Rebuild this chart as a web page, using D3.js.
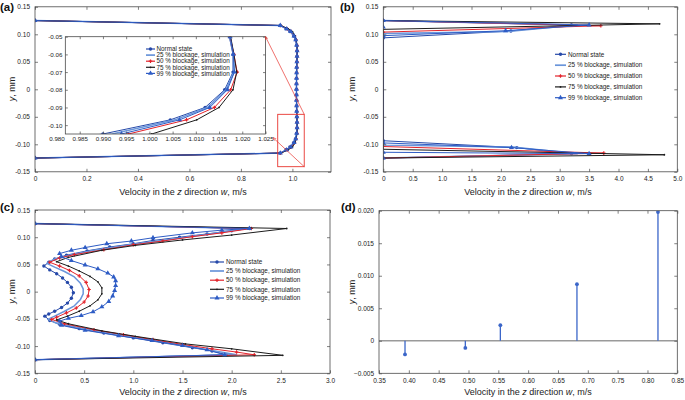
<!DOCTYPE html>
<html><head><meta charset="utf-8">
<script src="https://cdn.jsdelivr.net/npm/d3@7"></script>
<style>
body{margin:0;background:#fff;}
svg{display:block;font-family:"Liberation Sans",Arial,Helvetica,sans-serif;}
</style></head><body>
<svg id="chart" width="685" height="400"></svg>
<script>
// ---------- series meta ----------
const seriesNames = ["Normal state","25 % blockage, simulation","50 % blockage, simulation","75 % blockage, simulation","99 % blockage, simulation"];
const seriesColors = ["#2649a9","#6a95da","#e3232b","#1c1c1c","#2e5cc5"];
const seriesMarkers = ["circle", null, "cross", "dot", "triangle"];
const seriesWidths = [1, 1.5, 1, 1, 1];

// ---------- panel (a): y positions and velocities ----------
const aY = [0.125,0.116,0.11,0.105,0.097,0.09,0.08,0.07,0.06,0.05,0.04,0.03,0.02,0.01,0,-0.01,-0.02,-0.03,-0.04,-0.05,-0.06,-0.07,-0.08,-0.09,-0.097,-0.105,-0.11,-0.116,-0.125];
const aNormal = [0,0.952,0.975,0.990,1.0045,1.0120,1.0162,1.0180,1.0180,1.0172,1.0166,1.0162,1.0160,1.0158,1.0158,1.0158,1.0160,1.0162,1.0166,1.0172,1.0180,1.0180,1.0162,1.0120,1.0045,0.9900,0.975,0.952,0];
const a25 = [0,0.953,0.977,0.992,1.0055,1.0125,1.0165,1.0182,1.0181,1.0173,1.0167,1.0163,1.0161,1.0159,1.0159,1.0159,1.0161,1.0163,1.0167,1.0173,1.0181,1.0182,1.0165,1.0125,1.0055,0.9920,0.977,0.953,0];
const a50 = [0,0.954,0.980,0.9955,1.0080,1.0140,1.0175,1.0189,1.0182,1.0174,1.0168,1.0164,1.0162,1.0160,1.0160,1.0160,1.0162,1.0164,1.0168,1.0174,1.0182,1.0189,1.0175,1.0140,1.0080,0.9955,0.980,0.954,0];
const a75 = [0,0.956,0.984,1.0005,1.0102,1.0150,1.0180,1.0188,1.0182,1.0175,1.0169,1.0165,1.0163,1.0161,1.0161,1.0161,1.0163,1.0165,1.0169,1.0175,1.0182,1.0188,1.0180,1.0150,1.0102,1.0005,0.984,0.956,0];
const a99 = [0,0.953,0.978,0.9940,1.0065,1.0130,1.0168,1.0183,1.0181,1.0174,1.0167,1.0163,1.0161,1.0159,1.0159,1.0159,1.0161,1.0163,1.0167,1.0174,1.0181,1.0183,1.0168,1.0130,1.0065,0.9940,0.978,0.953,0];
const aTicksX = [0,0.2,0.4,0.6,0.8,1.0];
const yTicks = [-0.15,-0.10,-0.05,0,0.05,0.10,0.15];
const insetTicksX = [0.980,0.985,0.990,0.995,1.000,1.005,1.010,1.015,1.020,1.025];
const insetTicksY = [-0.10,-0.09,-0.08,-0.07,-0.06,-0.05];
const zoomRectX = [0.943,1.046], zoomRectY = [-0.1407,-0.0455];

// ---------- panel (b): [w, y] points ----------
const bNormal = [[0,0.125],[3.2,0.117],[2.17,0.106],[0,0.0935],[0,-0.0935],[2.27,-0.106],[3.2,-0.117],[0,-0.125]];
const b25 = [[0,0.125],[3.3,0.117],[2.12,0.105],[0,0.1015],[0,-0.1015],[2.2,-0.105],[3.3,-0.117],[0,-0.125]];
const b50 = [[0,0.125],[3.7,0.1155],[0,0.104],[0,-0.104],[3.75,-0.116],[0,-0.125]];
const b75 = [[0,0.125],[4.7,0.119],[0,0.109],[0,-0.109],[4.78,-0.119],[0,-0.125]];
const b99 = [[0,0.113],[0,0.125],[3.5,0.117],[2.08,0.1065],[0,0.0975],[0,-0.0975],[2.18,-0.106],[3.5,-0.117],[0,-0.1145],[0,-0.125]];
const bTicksX = [0,0.5,1.0,1.5,2.0,2.5,3.0,3.5,4.0,4.5,5.0];

// ---------- panel (c): [w, y] points ----------
const cNormal = [[0,0.125],[2.18,0.116],[2.0,0.112],[1.75,0.106],[1.47,0.100],[1.2,0.094],[1.0,0.088],[0.76,0.082],[0.53,0.075],[0.32,0.067],[0.2,0.060],[0.14,0.054],[0.09,0.047],
  [0.15,0.040],[0.22,0.033],[0.28,0.025],[0.33,0.017],[0.37,0.008],[0.39,-0.002],[0.37,-0.012],[0.33,-0.021],[0.27,-0.029],[0.2,-0.036],[0.14,-0.041],[0.1,-0.045],
  [0.15,-0.053],[0.25,-0.060],[0.45,-0.068],[0.7,-0.076],[1.0,-0.085],[1.3,-0.094],[1.6,-0.103],[1.8,-0.109],[1.95,-0.116],[0,-0.125]];
const c25 = [[0,0.125],[2.15,0.116],[1.9,0.109],[1.5,0.099],[1.0,0.087],[0.6,0.076],[0.35,0.067],[0.2,0.060],[0.12,0.052],
  [0.2,0.045],[0.3,0.037],[0.4,0.027],[0.46,0.016],[0.49,0.005],[0.49,-0.004],[0.46,-0.015],[0.4,-0.026],[0.3,-0.036],[0.2,-0.045],[0.13,-0.051],
  [0.22,-0.058],[0.5,-0.068],[1.0,-0.083],[1.5,-0.099],[1.8,-0.108],[2.05,-0.116],[0,-0.125]];
const c50 = [[0,0.125],[2.2,0.116],[1.9,0.108],[1.6,0.101],[1.3,0.093],[1.0,0.086],[0.7,0.077],[0.4,0.068],[0.25,0.062],[0.15,0.054],
  [0.25,0.047],[0.35,0.039],[0.45,0.029],[0.52,0.017],[0.55,0.004],[0.54,-0.008],[0.5,-0.019],[0.42,-0.030],[0.32,-0.039],[0.22,-0.047],[0.17,-0.051],
  [0.3,-0.059],[0.6,-0.070],[0.9,-0.079],[1.2,-0.088],[1.5,-0.097],[1.8,-0.105],[2.05,-0.111],[2.23,-0.116],[0,-0.125]];
const c75 = [[0,0.125],[2.56,0.116],[2.0,0.104],[1.5,0.095],[1.02,0.085],[0.68,0.076],[0.34,0.063],[0.22,0.055],
  [0.34,0.047],[0.45,0.038],[0.56,0.028],[0.64,0.018],[0.68,0.007],[0.68,-0.004],[0.64,-0.015],[0.56,-0.026],[0.45,-0.036],[0.33,-0.045],[0.22,-0.052],
  [0.34,-0.059],[0.68,-0.072],[1.02,-0.082],[1.53,-0.096],[2.0,-0.105],[2.52,-0.117],[0,-0.125]];
const c99 = [[0,0.125],[2.18,0.116],[1.9,0.113],[1.6,0.108],[1.2,0.099],[0.98,0.093],[0.73,0.088],[0.51,0.081],[0.37,0.076],[0.25,0.070],
  [0.27,0.064],[0.37,0.057],[0.51,0.049],[0.64,0.042],[0.74,0.034],[0.80,0.027],[0.82,0.020],[0.82,0.011],[0.81,0.002],[0.79,-0.008],[0.75,-0.018],[0.68,-0.028],[0.59,-0.037],[0.47,-0.044],[0.34,-0.049],[0.25,-0.054],
  [0.27,-0.062],[0.51,-0.071],[0.85,-0.081],[1.19,-0.090],[1.5,-0.099],[1.75,-0.107],[1.93,-0.116],[0,-0.125]];
const cTicksX = [0,0.5,1.0,1.5,2.0,2.5,3.0];

// ---------- panel (d): stems ----------
const dVel = [0.3936,0.4947,0.5534,0.6818,0.8176];
const dY = [-0.0021,-0.0011,0.0024,0.0087,0.0198];
const dTicksX = [0.35,0.40,0.45,0.50,0.55,0.60,0.65,0.70,0.75,0.80,0.85];
const dTicksY = [-0.005,0,0.005,0.010,0.015,0.020];

// ================= drawing =================
const svg = d3.select("#chart");
const TICKFS = 6.5, TEXT = "#222", FRAME = "#4a4a4a";
let clipId = 0;

function makeAxes(xd, xr, yd, yr){
  const g = svg.append("g");
  const x = d3.scaleLinear().domain(xd).range(xr);
  const y = d3.scaleLinear().domain(yd).range(yr);
  g.append("rect").attr("x",xr[0]).attr("y",yr[1]).attr("width",xr[1]-xr[0]).attr("height",yr[0]-yr[1]).attr("fill","#fff");
  const id = "clip"+(clipId++);
  svg.append("clipPath").attr("id",id).append("rect").attr("x",xr[0]).attr("y",yr[1]).attr("width",xr[1]-xr[0]).attr("height",yr[0]-yr[1]);
  const data = g.append("g").attr("clip-path",`url(#${id})`);
  return {g, data, x, y};
}

function styleAxis(sel, fs){
  sel.select(".domain").remove();
  sel.selectAll(".tick line").attr("stroke",FRAME).attr("stroke-width",0.7);
  sel.selectAll(".tick text").attr("font-size",fs).attr("fill",TEXT).attr("font-family",null);
  sel.attr("font-family",null);
}

function frame(P, xt, yt, xf, yf, opts={}){
  const {g,x,y} = P;
  const fs = opts.fs || TICKFS, tl = opts.tl || 3;
  const left = opts.frameLeft !== undefined ? opts.frameLeft : x.range()[0];
  const right = x.range()[1], bot = y.range()[0], top = y.range()[1];
  const inFrame = v => x(v) >= left-0.5;
  const xb = g.append("g").attr("transform",`translate(0,${bot})`)
    .call(d3.axisBottom(x).tickValues(xt).tickFormat(xf).tickSize(-tl).tickPadding(opts.xpad||5));
  styleAxis(xb, fs);
  xb.selectAll(".tick line").filter(d=>!inFrame(d)).remove();
  const xtop = g.append("g").attr("transform",`translate(0,${top})`)
    .call(d3.axisTop(x).tickValues(xt.filter(inFrame)).tickFormat("").tickSize(-tl));
  styleAxis(xtop, fs);
  const yl = g.append("g").attr("transform",`translate(${left},0)`)
    .call(d3.axisLeft(y).tickValues(yt).tickFormat(yf).tickSize(-tl).tickPadding(opts.ypad||5));
  styleAxis(yl, fs);
  const yr = g.append("g").attr("transform",`translate(${right},0)`)
    .call(d3.axisRight(y).tickValues(yt).tickFormat("").tickSize(-tl));
  styleAxis(yr, fs);
  g.append("rect").attr("x",left).attr("y",top).attr("width",right-left).attr("height",bot-top)
    .attr("fill","none").attr("stroke",FRAME).attr("stroke-width",0.8);
}

function symbolPath(kind){
  if(kind==="circle") return d3.symbol(d3.symbolCircle, 9)();
  if(kind==="dot") return d3.symbol(d3.symbolCircle, 2.5)();
  if(kind==="cross") return d3.symbol(d3.symbolCross, 7)();
  if(kind==="triangle") return d3.symbol(d3.symbolTriangle, 11)();
  return null;
}

function drawSeries(layer, x, y, pts, i){
  const line = d3.line().x(d=>x(d[0])).y(d=>y(d[1]));
  layer.append("path").datum(pts).attr("d",line).attr("fill","none")
    .attr("stroke",seriesColors[i]).attr("stroke-width",seriesWidths[i]).attr("stroke-linejoin","round");
  const m = seriesMarkers[i];
  if(m){
    layer.append("g").selectAll("path").data(pts).join("path")
      .attr("transform",d=>`translate(${x(d[0])},${y(d[1])})`)
      .attr("d",symbolPath(m)).attr("fill",seriesColors[i]);
  }
}

function legend(g, x0, len, tx, rows, fs){
  seriesNames.forEach((n,i)=>{
    const yy = rows[i];
    g.append("line").attr("x1",x0).attr("x2",x0+len).attr("y1",yy).attr("y2",yy)
      .attr("stroke",seriesColors[i]).attr("stroke-width",seriesWidths[i]+0.2);
    const m = seriesMarkers[i];
    if(m) g.append("path").attr("transform",`translate(${x0+len/2},${yy})`).attr("d",symbolPath(m)).attr("fill",seriesColors[i]);
    g.append("text").attr("x",tx).attr("y",yy).attr("dy","0.35em").attr("font-size",fs).attr("fill",TEXT).text(n);
  });
}

function xTitle(cx, by){
  const t = svg.append("text").attr("x",cx).attr("y",by).attr("text-anchor","middle").attr("font-size",9).attr("fill",TEXT);
  t.append("tspan").text("Velocity in the ");
  t.append("tspan").attr("font-style","italic").text("z");
  t.append("tspan").text(" direction ");
  t.append("tspan").attr("font-style","italic").text("w");
  t.append("tspan").text(", m/s");
}
function yTitle(bx, cy){
  const t = svg.append("text").attr("transform",`translate(${bx},${cy}) rotate(-90)`).attr("text-anchor","middle").attr("font-size",9).attr("fill",TEXT);
  t.append("tspan").attr("font-style","italic").text("y");
  t.append("tspan").text(", mm");
}
function panelLabel(x, y, s){
  svg.append("text").attr("x",x).attr("y",y).attr("font-size",11.5).attr("font-weight","bold").attr("fill","#111").text(s);
}

const f1 = d => d===0 ? "0" : d3.format(".1f")(d);
const f2 = d => d===0 ? "0" : d3.format(".2f")(d).replace("−","-");
const f3 = d => Math.abs(d)<1e-12 ? "0" : d3.format(".3f")(d);

// ---------- (a) ----------
const A = makeAxes([0,1.15],[35,331],[-0.15,0.15],[171.8,6.8]);
const aSeries = [aNormal,a25,a50,a75,a99];
aSeries.forEach((w,i)=> drawSeries(A.data, A.x, A.y, aY.map((yv,k)=>[w[k],yv]), i));
// zoom rectangle
A.g.append("rect").attr("x",A.x(zoomRectX[0])).attr("y",A.y(zoomRectY[1]))
  .attr("width",A.x(zoomRectX[1])-A.x(zoomRectX[0])).attr("height",A.y(zoomRectY[0])-A.y(zoomRectY[1]))
  .attr("fill","none").attr("stroke","#e8352f").attr("stroke-width",0.9);
frame(A, aTicksX, yTicks, f1, f2);

// inset
const IN = makeAxes([0.98,1.025],[56.5,265.5],[-0.105,-0.05],[134,36.7]);
const insetLeft = IN.x(0.9819);
IN.g.select("rect").attr("x",insetLeft).attr("width",265.5-insetLeft);
svg.select("#clip"+(clipId-1)+" rect").attr("x",insetLeft).attr("width",265.5-insetLeft);
aSeries.forEach((w,i)=> drawSeries(IN.data, IN.x, IN.y, aY.map((yv,k)=>[w[k],yv]), i));
frame(IN, insetTicksX, insetTicksY, d3.format(".3f"), d=>d3.format(".2f")(d).replace("−","-"), {fs:6.2, tl:2.5, frameLeft:insetLeft, xpad:3, ypad:3});
legend(IN.g, 146, 9, 156.5, [49,55.1,61.2,67.3,73.4], 6.3);

// connectors with arrowheads
const defs = svg.append("defs");
defs.append("marker").attr("id","arr").attr("viewBox","0 0 10 10").attr("refX",9).attr("refY",5)
  .attr("markerWidth",5).attr("markerHeight",5).attr("orient","auto")
  .append("path").attr("d","M0,1 L10,5 L0,9").attr("fill","none").attr("stroke","#e8352f").attr("stroke-width",1.5);
const conn = [
  [A.x(zoomRectX[1]), A.y(zoomRectY[1]), IN.x(1.025), IN.y(-0.05)],
  [A.x(zoomRectX[1]), A.y(zoomRectY[0]), A.x(0.925), A.y(-0.088)]
];
svg.append("g").selectAll("line").data(conn).join("line")
  .attr("x1",d=>d[0]).attr("y1",d=>d[1]).attr("x2",d=>d[2]).attr("y2",d=>d[3])
  .attr("stroke","#e8352f").attr("stroke-width",0.7).attr("marker-end","url(#arr)");

xTitle(183, 195); yTitle(15, 89); panelLabel(0, 10.5, "(a)");

// ---------- (b) ----------
const B = makeAxes([0,5],[383.3,677.3],[-0.15,0.15],[171.8,6.8]);
[bNormal,b25,b50,b75,b99].forEach((p,i)=> drawSeries(B.data, B.x, B.y, p, i));
frame(B, bTicksX, yTicks, f1, f2);
legend(B.g, 555, 11, 568, [54.3,65.2,76,86.9,97.7], 6.4);
xTitle(528, 195); yTitle(355, 89); panelLabel(340, 10.5, "(b)");

// ---------- (c) ----------
const C = makeAxes([0,3],[35,330],[-0.15,0.15],[373.3,210]);
[cNormal,c25,c50,c75,c99].forEach((p,i)=> drawSeries(C.data, C.x, C.y, p, i));
frame(C, cTicksX, yTicks, f1, f2);
legend(C.g, 210, 14, 226, [262,271,280.2,289.3,298], 6.4);
xTitle(183, 395); yTitle(15, 291.5); panelLabel(0, 211, "(c)");

// ---------- (d) ----------
const D = makeAxes([0.35,0.85],[379,677.3],[-0.005,0.02],[373.3,210.7]);
D.data.append("line").attr("x1",D.x.range()[0]).attr("x2",D.x.range()[1]).attr("y1",D.y(0)).attr("y2",D.y(0))
  .attr("stroke","#9a9a9a").attr("stroke-width",1.4);
const stems = dVel.map((v,i)=>[v,dY[i]]);
D.data.append("g").selectAll("line").data(stems).join("line")
  .attr("x1",d=>D.x(d[0])).attr("x2",d=>D.x(d[0])).attr("y1",D.y(0)).attr("y2",d=>D.y(d[1]))
  .attr("stroke","#3b66c9").attr("stroke-width",1.3);
D.data.append("g").selectAll("circle").data(stems).join("circle")
  .attr("cx",d=>D.x(d[0])).attr("cy",d=>D.y(d[1])).attr("r",1.9).attr("fill","#3b66c9");
frame(D, dTicksX, dTicksY, d3.format(".2f"), f3);
xTitle(528, 395); yTitle(355, 292); panelLabel(341, 211, "(d)");
</script>
</body></html>
